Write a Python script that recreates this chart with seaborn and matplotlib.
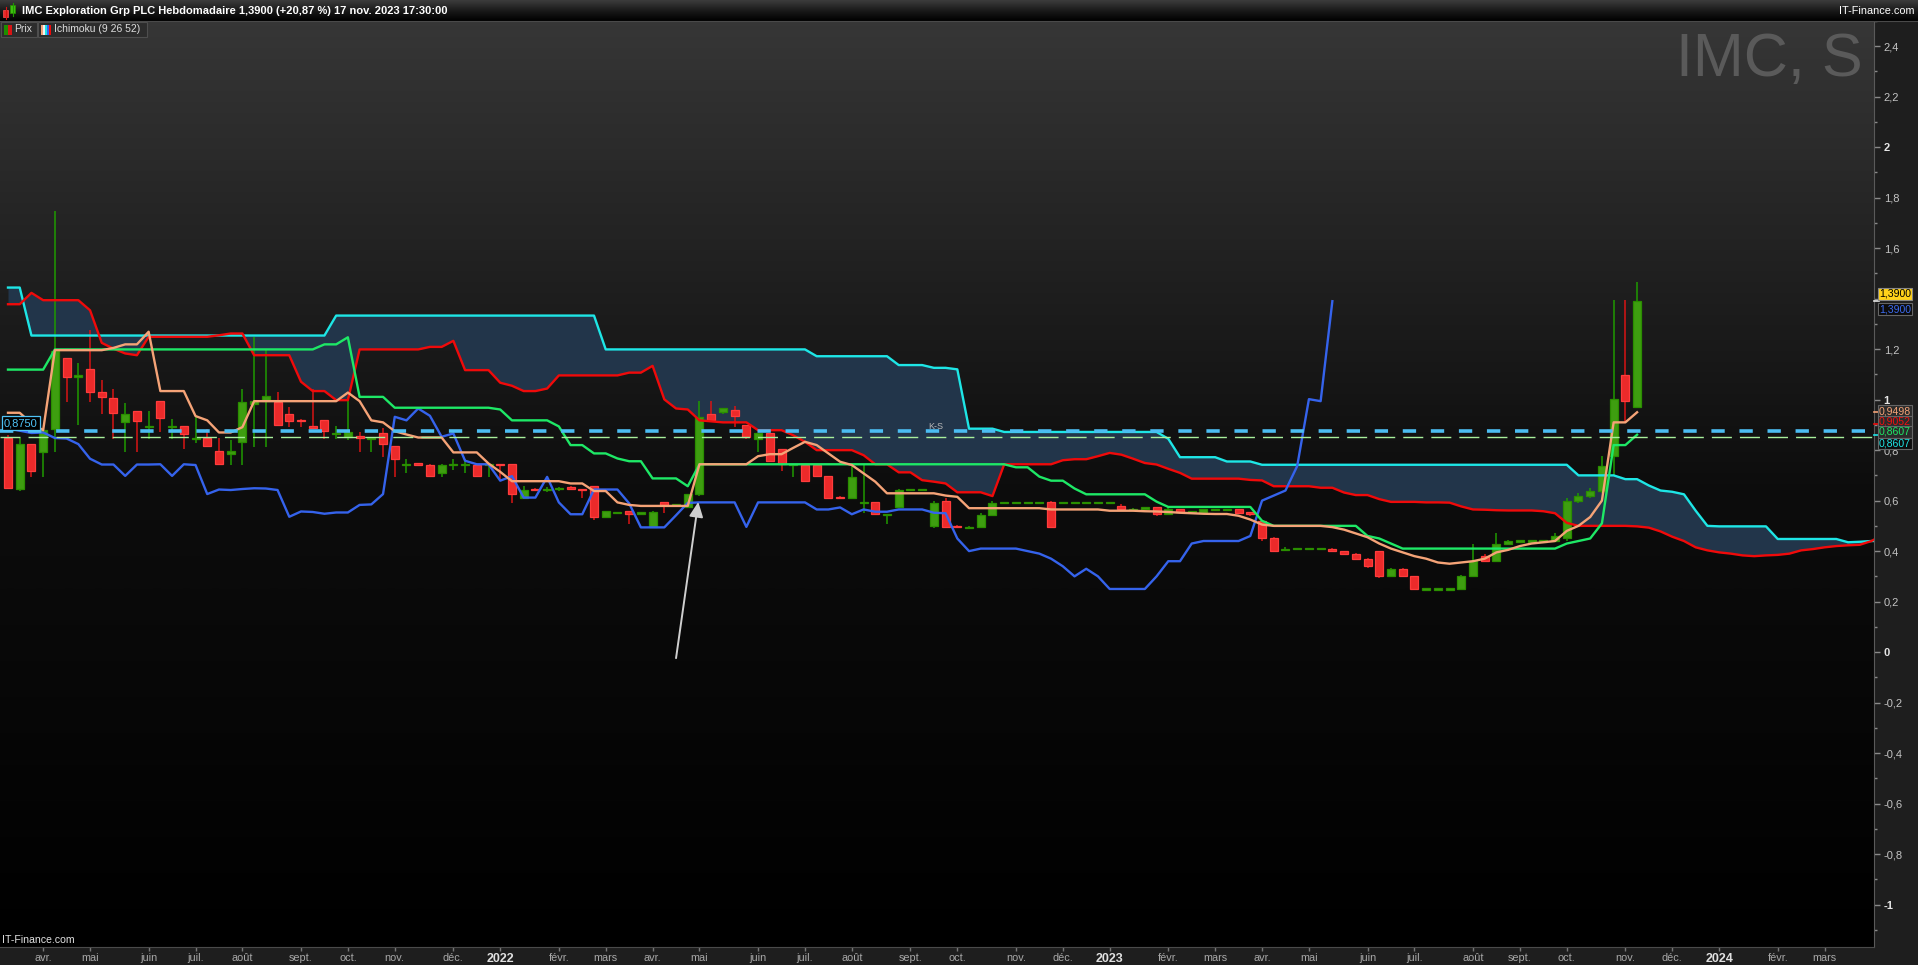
import numpy as np
import pandas as pd
import matplotlib
matplotlib.use("Agg")
import matplotlib.pyplot as plt
import matplotlib.transforms as mtransforms
from matplotlib.colors import LinearSegmentedColormap
from matplotlib.patches import Rectangle
from matplotlib import font_manager
import seaborn as sns

# ---------------- data (weekly bars from 15 Mar 2021) ----------------
START = "2021-03-15"

opens = [0.850, 0.646, 0.824, 0.793, 0.883, 1.164, 1.088, 1.121, 1.030, 1.006,
         0.910, 0.954, 0.892, 0.994, 0.892, 0.894, 0.844, 0.850, 0.796, 0.783,
         0.833, 0.984, 0.994, 0.989, 0.942, 0.918, 0.894, 0.918, 0.864, 0.853,
         0.857, 0.845, 0.866, 0.816, 0.741, 0.747, 0.743, 0.708, 0.741, 0.741,
         0.743, 0.741, 0.745, 0.745, 0.609, 0.646, 0.642, 0.645, 0.651, 0.646,
         0.657, 0.536, 0.553, 0.557, 0.546, 0.496, 0.593, 0.583, 0.573, 0.626,
         0.945, 0.950, 0.958, 0.899, 0.846, 0.866, 0.804, 0.741, 0.741, 0.741,
         0.697, 0.614, 0.612, 0.593, 0.593, 0.544, 0.573, 0.644, 0.644, 0.500,
         0.600, 0.500, 0.494, 0.494, 0.542, 0.591, 0.593, 0.593, 0.593, 0.593,
         0.590, 0.593, 0.593, 0.593, 0.593, 0.580, 0.565, 0.565, 0.573, 0.546,
         0.565, 0.556, 0.556, 0.565, 0.565, 0.565, 0.552, 0.520, 0.450, 0.405,
         0.410, 0.410, 0.410, 0.410, 0.400, 0.390, 0.370, 0.400, 0.300, 0.330,
         0.300, 0.250, 0.250, 0.250, 0.250, 0.300, 0.380, 0.360, 0.430, 0.440,
         0.440, 0.440, 0.440, 0.450, 0.600, 0.620, 0.640, 0.776, 1.097, 0.970]
highs = [0.860, 0.850, 0.826, 0.880, 1.747, 1.166, 1.145, 1.275, 1.077, 1.041,
         0.985, 0.956, 0.954, 0.996, 0.923, 0.896, 0.931, 0.883, 0.850, 0.839,
         1.044, 1.249, 1.196, 1.030, 0.972, 0.924, 1.044, 0.920, 0.896, 1.011,
         0.870, 0.848, 0.887, 0.818, 0.763, 0.749, 0.745, 0.745, 0.763, 0.763,
         0.745, 0.745, 0.747, 0.747, 0.657, 0.650, 0.652, 0.652, 0.657, 0.648,
         0.659, 0.560, 0.556, 0.559, 0.555, 0.557, 0.596, 0.588, 0.628, 0.994,
         0.994, 0.967, 0.974, 0.901, 0.868, 0.868, 0.806, 0.745, 0.743, 0.743,
         0.699, 0.617, 0.751, 0.741, 0.595, 0.548, 0.646, 0.646, 0.646, 0.600,
         0.610, 0.505, 0.498, 0.550, 0.600, 0.596, 0.596, 0.596, 0.596, 0.600,
         0.596, 0.596, 0.596, 0.596, 0.596, 0.585, 0.570, 0.576, 0.575, 0.580,
         0.567, 0.560, 0.567, 0.567, 0.567, 0.567, 0.555, 0.525, 0.455, 0.415,
         0.412, 0.412, 0.412, 0.412, 0.402, 0.392, 0.372, 0.402, 0.335, 0.332,
         0.302, 0.252, 0.252, 0.252, 0.305, 0.430, 0.390, 0.470, 0.445, 0.442,
         0.442, 0.442, 0.470, 0.610, 0.630, 0.650, 0.776, 1.394, 1.394, 1.465]
lows = [0.645, 0.640, 0.694, 0.694, 0.793, 0.991, 0.899, 0.991, 0.945, 0.846,
        0.793, 0.793, 0.846, 0.873, 0.846, 0.803, 0.830, 0.815, 0.744, 0.740,
        0.741, 0.813, 0.813, 0.897, 0.890, 0.890, 0.884, 0.845, 0.845, 0.840,
        0.793, 0.793, 0.774, 0.694, 0.708, 0.740, 0.694, 0.694, 0.722, 0.710,
        0.694, 0.694, 0.684, 0.591, 0.605, 0.640, 0.636, 0.640, 0.644, 0.612,
        0.523, 0.534, 0.550, 0.506, 0.544, 0.494, 0.551, 0.580, 0.571, 0.620,
        0.914, 0.945, 0.890, 0.845, 0.793, 0.755, 0.716, 0.694, 0.676, 0.695,
        0.612, 0.610, 0.610, 0.551, 0.546, 0.509, 0.571, 0.642, 0.642, 0.490,
        0.490, 0.490, 0.490, 0.490, 0.540, 0.590, 0.590, 0.590, 0.590, 0.490,
        0.588, 0.590, 0.590, 0.590, 0.590, 0.560, 0.560, 0.563, 0.540, 0.545,
        0.550, 0.550, 0.552, 0.562, 0.562, 0.550, 0.540, 0.440, 0.395, 0.400,
        0.408, 0.408, 0.408, 0.395, 0.385, 0.365, 0.335, 0.295, 0.298, 0.298,
        0.245, 0.248, 0.248, 0.248, 0.248, 0.298, 0.355, 0.358, 0.428, 0.438,
        0.438, 0.438, 0.438, 0.440, 0.590, 0.610, 0.630, 0.700, 0.912, 0.965]
closes = [0.651, 0.824, 0.717, 0.879, 1.193, 1.090, 1.097, 1.031, 1.011, 0.948,
          0.945, 0.916, 0.896, 0.928, 0.896, 0.862, 0.848, 0.817, 0.747, 0.796,
          0.989, 0.994, 1.013, 0.899, 0.916, 0.914, 0.886, 0.877, 0.868, 0.870,
          0.848, 0.846, 0.824, 0.766, 0.743, 0.743, 0.698, 0.743, 0.743, 0.744,
          0.698, 0.744, 0.741, 0.626, 0.644, 0.642, 0.646, 0.649, 0.648, 0.642,
          0.536, 0.557, 0.555, 0.548, 0.553, 0.553, 0.583, 0.585, 0.626, 0.932,
          0.918, 0.965, 0.936, 0.853, 0.866, 0.758, 0.744, 0.744, 0.679, 0.697,
          0.612, 0.612, 0.694, 0.593, 0.546, 0.546, 0.644, 0.644, 0.644, 0.589,
          0.494, 0.494, 0.494, 0.542, 0.591, 0.593, 0.593, 0.593, 0.593, 0.496,
          0.593, 0.593, 0.593, 0.593, 0.593, 0.565, 0.565, 0.573, 0.546, 0.565,
          0.556, 0.556, 0.565, 0.565, 0.565, 0.552, 0.550, 0.450, 0.400, 0.410,
          0.410, 0.410, 0.410, 0.400, 0.390, 0.370, 0.340, 0.300, 0.330, 0.300,
          0.250, 0.250, 0.250, 0.250, 0.300, 0.360, 0.360, 0.430, 0.440, 0.440,
          0.440, 0.440, 0.460, 0.600, 0.620, 0.640, 0.737, 1.002, 0.994, 1.390]

tenkan = [0.948, 0.948, 0.906, 0.879, 1.196, 1.196, 1.196, 1.196, 1.196, 1.205,
          1.219, 1.219, 1.269, 1.034, 1.034, 1.034, 0.935, 0.918, 0.870, 0.870,
          0.891, 0.994, 0.994, 0.994, 0.994, 0.994, 0.994, 0.994, 0.994, 1.028,
          0.994, 0.918, 0.910, 0.875, 0.862, 0.850, 0.850, 0.850, 0.791, 0.791,
          0.791, 0.747, 0.714, 0.677, 0.677, 0.677, 0.677, 0.677, 0.668, 0.668,
          0.638, 0.638, 0.593, 0.583, 0.579, 0.579, 0.579, 0.579, 0.579, 0.744,
          0.744, 0.744, 0.744, 0.744, 0.776, 0.784, 0.784, 0.809, 0.833, 0.820,
          0.787, 0.754, 0.741, 0.708, 0.675, 0.629, 0.629, 0.629, 0.629, 0.629,
          0.620, 0.615, 0.570, 0.570, 0.570, 0.570, 0.570, 0.570, 0.570, 0.565,
          0.565, 0.565, 0.565, 0.565, 0.560, 0.560, 0.560, 0.558, 0.557, 0.555,
          0.552, 0.550, 0.548, 0.547, 0.547, 0.540, 0.525, 0.505, 0.500, 0.500,
          0.500, 0.500, 0.500, 0.495, 0.485, 0.470, 0.455, 0.430, 0.410, 0.395,
          0.380, 0.370, 0.355, 0.350, 0.355, 0.360, 0.370, 0.395, 0.405, 0.420,
          0.430, 0.435, 0.440, 0.480, 0.500, 0.535, 0.600, 0.910, 0.910, 0.950]

kijun = ([1.119] * 4 + [1.199] * 23 + [1.219, 1.219, 1.247] + [1.011] * 3
         + [0.968] * 9 + [0.961] + [0.918] * 4 + [0.894] + [0.820] * 2
         + [0.787] * 2 + [0.767] + [0.756] * 2 + [0.688] * 3 + [0.657]
         + [0.744] * 27 + [0.732, 0.732, 0.695, 0.679, 0.679, 0.648]
         + [0.625] * 6 + [0.596] + [0.575] * 8 + [0.520] + [0.500] * 8
         + [0.460, 0.450, 0.430] + [0.410] * 14
         + [0.430, 0.440, 0.450, 0.510, 0.820, 0.820, 0.861])

senkou_a = ([1.378] * 2 + [1.423] + [1.394] * 4 + [1.354, 1.225, 1.202, 1.183, 1.176]
            + [1.249] * 6 + [1.255, 1.262, 1.262] + [1.176] * 4
            + [1.071, 1.034, 1.034, 0.998, 0.998] + [1.199] * 6
            + [1.209, 1.209, 1.233] + [1.117] * 3
            + [1.067, 1.055, 1.034, 1.034, 1.044] + [1.096] * 6
            + [1.107, 1.107, 1.134, 1.001, 0.965, 0.961, 0.918, 0.914]
            + [0.910] * 3 + [0.879] * 3 + [0.859, 0.833] + [0.800] * 4
            + [0.780, 0.744, 0.744, 0.712, 0.712, 0.681, 0.675]
            + [0.668, 0.633, 0.633, 0.633, 0.618] + [0.744] * 5
            + [0.760, 0.764, 0.764, 0.776, 0.789, 0.782, 0.766, 0.749, 0.743, 0.726, 0.710]
            + [0.687] * 5 + [0.682, 0.680] + [0.657] * 4
            + [0.651, 0.651, 0.632, 0.622, 0.622, 0.606] + [0.595] * 3
            + [0.593, 0.593, 0.592, 0.577, 0.565, 0.564, 0.562] + [0.561] * 3
            + [0.558, 0.550, 0.512] + [0.500] * 5
            + [0.498, 0.493, 0.478, 0.457, 0.440, 0.415, 0.403, 0.395, 0.390, 0.383,
               0.380, 0.383, 0.385, 0.390, 0.403, 0.408, 0.415, 0.420, 0.423, 0.425,
               0.440, 0.465])

senkou_b = ([1.444] * 2 + [1.254] * 26 + [1.333] * 23 + [1.199] * 18 + [1.172] * 7
            + [1.137] * 3 + [1.126, 1.126, 1.120] + [0.885] * 3 + [0.872] * 14
            + [0.845] + [0.772] * 4 + [0.755] * 3 + [0.742] * 27 + [0.700] * 4
            + [0.685] * 2 + [0.660, 0.640, 0.635, 0.625, 0.560, 0.500]
            + [0.498] * 5 + [0.448] * 6 + [0.435, 0.437, 0.440, 0.440])

month_labels = ["avr.", "mai", "juin", "juil.", "août", "sept.", "oct.", "nov.", "déc.",
                "2022", "févr.", "mars", "avr.", "mai", "juin", "juil.", "août", "sept.",
                "oct.", "nov.", "déc.", "2023", "févr.", "mars", "avr.", "mai", "juin",
                "juil.", "août", "sept.", "oct.", "nov.", "déc.", "2024", "févr.", "mars"]

y_major = [-1.0, -0.8, -0.6, -0.4, -0.2, 0.0, 0.2, 0.4, 0.6, 0.8, 1.0,
           1.2, 1.4, 1.6, 1.8, 2.0, 2.2, 2.4]
# tick labels hidden behind the price tags in the reference
y_hidden = [1.4]

level_blue = 0.875
level_green = 0.851

title = "IMC Exploration Grp PLC Hebdomadaire 1,3900 (+20,87 %) 17 nov. 2023 17:30:00"

# ---------------- fonts ----------------
avail = {f.name for f in font_manager.fontManager.ttflist}
SANS = "Liberation Sans" if "Liberation Sans" in avail else "DejaVu Sans"
NARROW = "Liberation Sans Narrow" if "Liberation Sans Narrow" in avail else SANS
plt.rcParams["font.family"] = [SANS, "DejaVu Sans"]
plt.rcParams["lines.scale_dashes"] = False

W, H, DPI = 1918, 965, 100
fig = plt.figure(figsize=(W / DPI, H / DPI), dpi=DPI, facecolor="#1e1e1e")

PLOT_TOP, PLOT_BOT, PLOT_RIGHT = 21, 947, 1874
ax = fig.add_axes([0, (H - PLOT_BOT) / H, PLOT_RIGHT / W, (PLOT_BOT - PLOT_TOP) / H])

X0, DX = 8.0, 11.72
Y0, DY = 652.0, 252.5
xlim = (-X0 / DX, (PLOT_RIGHT - X0) / DX)
ylim = ((Y0 - PLOT_BOT) / DY, (Y0 - PLOT_TOP) / DY)

# background gradient
grad = np.linspace(0, 1, 256).reshape(-1, 1)
bg_cmap = LinearSegmentedColormap.from_list("bg", ["#000000", "#0d0d0d", "#363636"])
ax.imshow(grad, extent=[xlim[0], xlim[1], ylim[0], ylim[1]], origin="lower",
          aspect="auto", cmap=bg_cmap, zorder=0, interpolation="bilinear")

o = np.array(opens); h = np.array(highs); l = np.array(lows); c = np.array(closes)
n = len(c)
idx = np.arange(n)

# cloud
na = min(len(senkou_a), len(senkou_b))
cidx = np.arange(na)
ssa = np.array(senkou_a[:na]); ssb = np.array(senkou_b[:na])
ax.fill_between(cidx, ssa, ssb, color="#22354a", lw=0, zorder=1)

# candles
up = c >= o
body_lo = np.minimum(o, c)
body_h = np.abs(c - o)
tiny = body_h < 0.005
body_lo = np.where(tiny, (o + c) / 2 - 0.0025, body_lo)
body_h = np.where(tiny, 0.005, body_h)
ax.vlines(idx[up], l[up], h[up], color="#1f9a00", lw=1.1, zorder=3)
ax.vlines(idx[~up], l[~up], h[~up], color="#d81414", lw=1.1, zorder=3)
ax.bar(idx[up], body_h[up], bottom=body_lo[up], width=0.68, color="#3e9e10",
       edgecolor="#2a8e00", linewidth=0.9, zorder=4)
ax.bar(idx[~up], body_h[~up], bottom=body_lo[~up], width=0.68, color="#ec2a2a",
       edgecolor="#ff3c3c", linewidth=0.9, zorder=4)

# ichimoku lines
LW = 1.7
sns.lineplot(x=cidx, y=ssb, ax=ax, color="#1ee6e6", linewidth=LW, zorder=5)
sns.lineplot(x=cidx, y=ssa, ax=ax, color="#f00a0a", linewidth=LW, zorder=5)
sns.lineplot(x=idx[: n - 26], y=c[26:], ax=ax, color="#3563ec", linewidth=LW, zorder=5)
sns.lineplot(x=np.arange(len(kijun)), y=np.array(kijun), ax=ax, color="#1ee866",
             linewidth=LW, zorder=5)
sns.lineplot(x=np.arange(len(tenkan)), y=np.array(tenkan), ax=ax, color="#f5a377",
             linewidth=LW, zorder=5)

# horizontal dashed levels
ax.axhline(level_blue, color="#4cbdf2", lw=2.6, linestyle=(0, (9.6, 10.6)), zorder=6)
ax.axhline(level_green, color="#a8f09c", lw=1.0, linestyle=(0, (14.4, 5.8)), zorder=6)
ax.text(78.5, 0.893, "K-S", color="#b8b8b8", fontsize=6.5, va="center", ha="left", zorder=6)

# arrow
ax.annotate("", xy=(58.9, 0.595), xytext=(57.0, -0.024),
            arrowprops=dict(arrowstyle="-|>,head_length=0.9,head_width=0.42",
                            color="#cfcfcf", lw=1.4, shrinkA=0, shrinkB=0), zorder=7)

ax.set_xlim(*xlim)
ax.set_ylim(*ylim)
ax.set_xlabel("")
ax.set_ylabel("")

# watermark
ax.text(1863 / PLOT_RIGHT, 1 - (61 - PLOT_TOP) / (PLOT_BOT - PLOT_TOP), "IMC, S",
        transform=ax.transAxes, ha="right", va="center", fontsize=44,
        color="#5a5a5a", family=SANS, zorder=1)

# y axis on the right
ax.yaxis.tick_right()
ax.set_yticks(y_major)
ylabels = []
for v in y_major:
    if any(abs(v - hv) < 1e-9 for hv in y_hidden):
        ylabels.append("")
    elif abs(v - round(v)) < 1e-9:
        ylabels.append(str(int(round(v))))
    else:
        ylabels.append(f"{v:.1f}".replace(".", ","))
ax.set_yticklabels(ylabels)
ax.set_yticks(np.round(np.arange(-1.1, 2.51, 0.1), 2), minor=True)
ax.tick_params(axis="y", which="major", direction="out", length=4, width=1,
               color="#8a8a8a", labelcolor="#c4c4c4", labelsize=8, pad=3)
ax.tick_params(axis="y", which="minor", direction="out", length=2, width=1, color="#8a8a8a")
for lab, v in zip(ax.get_yticklabels(), y_major):
    if abs(v - round(v)) < 1e-9:
        lab.set_fontweight("bold")
        lab.set_color("#e6e6e6")

# x axis labels
start = pd.Timestamp(START)
month_starts = pd.date_range("2021-04-01", periods=len(month_labels), freq="MS")
first_mondays = [d + pd.Timedelta(days=(7 - d.weekday()) % 7) for d in month_starts]
tick_pos = [(d - start).days / 7 for d in first_mondays]
ax.set_xticks(tick_pos)
ax.set_xticklabels(month_labels)
ax.tick_params(axis="x", direction="out", length=3, width=1, color="#777777",
               labelcolor="#a8a8a8", labelsize=7.8, pad=1)
for lab in ax.get_xticklabels():
    lab.set_family([NARROW, "DejaVu Sans"])
    if lab.get_text().isdigit():
        lab.set_fontweight("bold")
        lab.set_color("#e0e0e0")
        lab.set_fontsize(9)

for side in ["top", "left"]:
    ax.spines[side].set_visible(False)
ax.spines["right"].set_color("#5a5a5a")
ax.spines["bottom"].set_color("#4a4a4a")

# value tags on the price scale
bt = mtransforms.blended_transform_factory(ax.transAxes, ax.transData)
xr = 1879 / PLOT_RIGHT
for val, col in [(1.39, "#e8e8e8"), (0.9498, "#f5a377"), (0.9052, "#f00a0a"),
                 (0.8607, "#1ee6e6")]:
    ax.plot([1.0, 1.0028], [val, val], transform=bt, color=col, lw=1.2,
            clip_on=False, zorder=8)
tags = [(1.419, "1,3900", "#ffd21a", "#000000", "#888888"),
        (1.359, "1,3900", "#0c0c0c", "#3d6bf0", "#666666"),
        (0.954, "0,9498", "#2b2b2b", "#f5a377", "#666666"),
        (0.913, "0,9052", "#2b2b2b", "#f01010", "#666666"),
        (0.873, "0,8607", "#2b2b2b", "#1ee866", "#666666"),
        (0.826, "0,8607", "#0c0c0c", "#1ee6e6", "#666666")]
for yv, txt, fc, tc, ec in tags:
    ax.text(xr, yv, txt, transform=bt, ha="left", va="center", fontsize=7.6,
            color=tc, clip_on=False, zorder=9,
            bbox=dict(boxstyle="square,pad=0.08", fc=fc, ec=ec, lw=0.8))

# left level tag
ax.text(4 / PLOT_RIGHT, 0.907, "0,8750", transform=bt, ha="left", va="center",
        fontsize=8, color="#4fc3f7", zorder=9,
        bbox=dict(boxstyle="square,pad=0.2", fc="#000000", ec="#4fc3f7", lw=0.9))

# ---------------- overlay in pixel coordinates ----------------
ov = fig.add_axes([0, 0, 1, 1], zorder=10)
ov.set_xlim(0, W)
ov.set_ylim(H, 0)
ov.axis("off")
ov.patch.set_alpha(0)
hgrad = np.linspace(1, 0, 64).reshape(-1, 1)
hcmap = LinearSegmentedColormap.from_list("hd", ["#000000", "#1a1a1a", "#3c3c3c"])
ov.imshow(hgrad, extent=[0, W, PLOT_TOP, 0], origin="upper", aspect="auto",
          cmap=hcmap, interpolation="bilinear", zorder=0)
ov.set_xlim(0, W)
ov.set_ylim(H, 0)
ov.plot([0, W], [PLOT_TOP, PLOT_TOP], color="#4a4a4a", lw=0.8)
# header icon
ov.plot([5.5, 5.5], [7, 19], color="#d81414", lw=0.8)
ov.add_patch(Rectangle((3, 10), 5, 7, fc="#ec2a2a", ec="#ff5050", lw=0.5))
ov.plot([12.5, 12.5], [3, 16], color="#1f9a00", lw=0.8)
ov.add_patch(Rectangle((10, 5), 5, 8, fc="#3ec010", ec="#2a8e00", lw=0.5))
ov.text(22, 10.5, title, color="white", fontsize=8.0, fontweight="bold",
        va="center", ha="left", family=SANS)
ov.text(1914, 11, "IT-Finance.com", color="white", fontsize=7.8, va="center",
        ha="right", family=SANS)
# legend boxes
ov.add_patch(Rectangle((1, 22), 36, 15, fc="#2c2c2c", ec="#4e4e4e", lw=0.8))
ov.add_patch(Rectangle((4, 25), 4, 10, fc="#1e8e00", lw=0))
ov.add_patch(Rectangle((8, 25), 4, 10, fc="#d81414", lw=0))
ov.text(14, 29.5, "Prix", color="#dddddd", fontsize=7.5, va="center", ha="left",
        family=SANS)
ov.add_patch(Rectangle((38, 22), 109, 15, fc="#2c2c2c", ec="#4e4e4e", lw=0.8))
for k, col in enumerate(["#f5a377", "#f0f0f0", "#1ee6e6", "#3563ec", "#f00a0a"]):
    ov.add_patch(Rectangle((41 + 2 * k, 25), 2, 10, fc=col, lw=0))
ov.text(54, 29.5, "Ichimoku (9 26 52)", color="#dddddd", fontsize=7.5, va="center",
        ha="left", family=SANS)
ov.text(2, 940, "IT-Finance.com", color="#e2e2e2", fontsize=7.6, va="center",
        ha="left", family=SANS)

fig.savefig("out.png", dpi=DPI, facecolor=fig.get_facecolor())
